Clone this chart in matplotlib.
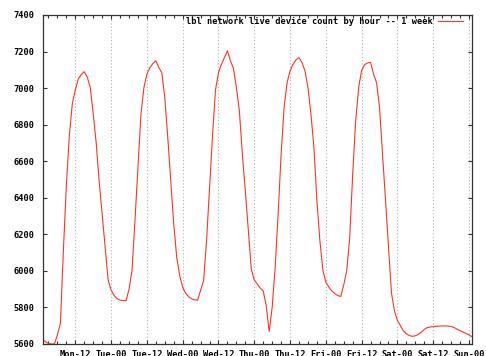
import matplotlib
matplotlib.use("Agg")
import matplotlib.pyplot as plt
from matplotlib.ticker import MultipleLocator

# hourly live device counts, hour 1 .. 145 of the week (Mon 00 = hour 0)
hours = list(range(1, 146))
counts = [
    5625, 5612, 5603, 5600, 5600, 5650, 5713, 6110, 6470, 6740, 6915, 6990,
    7050, 7075, 7090, 7060, 7005, 6860, 6700, 6490, 6310, 6128, 5950, 5895,
    5865, 5848, 5840, 5838, 5837, 5899, 6000, 6274, 6570, 6857, 7003, 7076,
    7112, 7134, 7150, 7112, 7085, 6948, 6730, 6493, 6256, 6074, 5974, 5910,
    5878, 5858, 5847, 5842, 5840, 5892, 5946, 6165, 6456, 6740, 6990, 7085,
    7131, 7167, 7205, 7149, 7110, 7003, 6876, 6640, 6438, 6220, 6010, 5950,
    5928, 5906, 5890, 5810, 5668, 5800, 6019, 6311, 6639, 6894, 7030, 7094,
    7130, 7155, 7167, 7140, 7094, 7003, 6857, 6675, 6384, 6165, 6005, 5937,
    5912, 5890, 5876, 5865, 5860, 5923, 6001, 6183, 6529, 6821, 7003, 7098,
    7128, 7138, 7140, 7076, 7030, 6894, 6639, 6384, 6128, 5880, 5780, 5728,
    5700, 5672, 5656, 5646, 5642, 5645, 5653, 5665, 5680, 5690, 5693, 5695,
    5697, 5698, 5699, 5699, 5698, 5696, 5690, 5681, 5673, 5665, 5658, 5650,
    5640,
]
tick_hours = [12, 24, 36, 48, 60, 72, 84, 96, 108, 120, 132, 144]
tick_labels = ["Mon-12", "Tue-00", "Tue-12", "Wed-00", "Wed-12", "Thu-00",
               "Thu-12", "Fri-00", "Fri-12", "Sat-00", "Sat-12", "Sun-00"]
y_ticks = [5600, 5800, 6000, 6200, 6400, 6600, 6800, 7000, 7200, 7400]
title = "lbl network live device count by hour -- 1 week"

font = {"family": "DejaVu Sans Mono", "weight": "bold", "size": 6.2}

fig = plt.figure(figsize=(4.86, 3.56), dpi=100)
ax = fig.add_axes([42.5 / 486, 1 - 344 / 356, (472 - 42.5) / 486, (344 - 15) / 356])

ax.plot(hours, counts, color="#ff3322", lw=0.8, label=title)

ax.set_xlim(1, 145)
ax.set_ylim(5600, 7400)
ax.set_xticks(tick_hours)
ax.set_xticklabels(tick_labels, fontdict=font)
ax.xaxis.set_minor_locator(MultipleLocator(3))
ax.set_yticks(y_ticks)
ax.set_yticklabels([str(v) for v in y_ticks], fontdict=font)

ax.tick_params(which="both", direction="in", top=True, right=True,
               colors="#333333", labelcolor="black")
ax.tick_params(which="major", length=3, width=0.8, pad=4)
ax.tick_params(which="minor", length=2, width=0.8)
ax.tick_params(axis="y", pad=6)

ax.grid(axis="x", which="major", color="#b0b0b0", ls=(0, (1, 2)), lw=0.8)
for s in ax.spines.values():
    s.set_color("#333333")
    s.set_linewidth(0.9)

# legend text ends near x=432 px, sample line 438..463 px, centred at y=22 px
leg = ax.legend(loc="upper right", frameon=False, prop=font,
                handlelength=2.9, handletextpad=0.6,
                borderpad=0, borderaxespad=0,
                bbox_to_anchor=((463 - 42.5) / 429.5, (344 - 17.5) / 329),
                markerfirst=False)

fig.savefig("out.png", dpi=100)
